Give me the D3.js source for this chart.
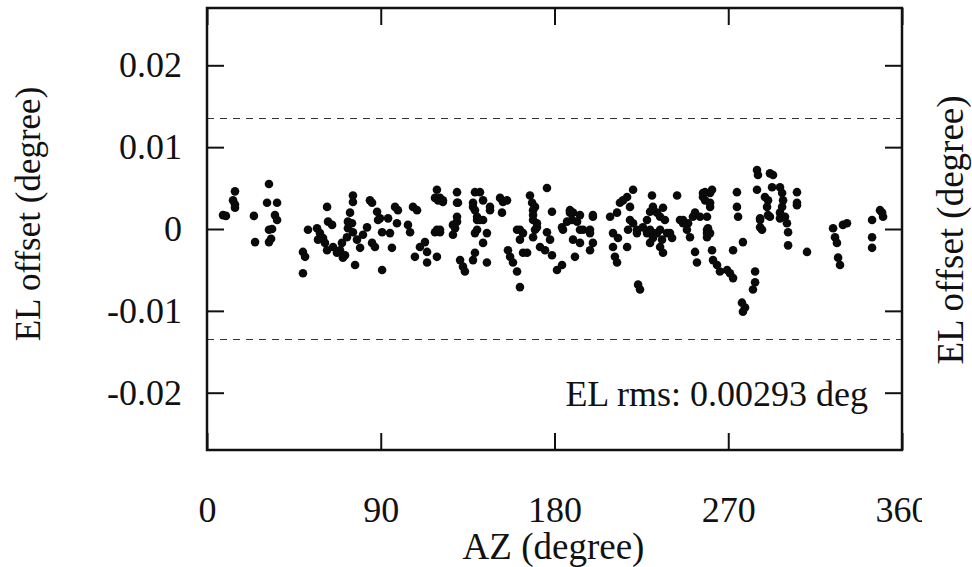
<!DOCTYPE html>
<html>
<head>
<meta charset="utf-8">
<script src="https://cdn.jsdelivr.net/npm/d3@7"></script>
<style>
  body { margin: 0; background: #fff; }
  svg text { font-family: "Liberation Serif", "Times New Roman", serif; fill: #111; }
</style>
</head>
<body>
<div id="chart"></div>
<script>
// pointing offsets: azimuth (deg) and elevation offset (deg)
const azValues = [
  8.3, 9.8, 14.5, 13.5, 14.5, 14.5, 24.3, 24.9, 32.1, 31.1, 36.3, 35.2, 36.3, 33.7, 32.1, 32.1, 33.2,
  49.7, 50.8, 49.7, 52.3, 57.0, 58.5, 60.1, 61.1, 62.2, 57.5, 62.2, 62.7, 64.8,
  65.3, 67.3, 68.9, 70.4, 71.5, 69.9, 72.5, 73.0, 75.1, 75.6, 74.1, 76.7, 75.6, 75.6, 73.0,
  77.7, 79.3, 80.8, 82.9, 85.5, 87.0, 88.1, 89.6, 90.7, 94.8, 95.8, 93.8, 98.4, 97.4, 98.9,
  90.7, 84.4, 85.5, 88.6,
  104.1, 105.2, 106.7, 108.8, 107.7, 110.3, 112.9, 114.0, 114.0, 119.1, 118.1, 120.7, 122.2, 119.7,
  127.4, 128.5, 129.5, 130.0, 131.1, 132.6, 133.6, 137.8, 138.8, 138.8, 139.9, 137.8,
  119.1, 118.1, 120.7, 122.2, 119.1, 120.7, 129.5, 129.5, 129.5, 127.4,
  138.8, 137.8, 138.8, 139.9, 139.9,
  141.4, 143.0, 146.6, 143.0, 151.8, 153.3, 155.4, 152.8,
  167.3, 168.4, 169.9, 168.9, 170.9, 169.9, 176.1, 178.7, 162.1, 163.7,
  188.0, 189.6, 193.2, 191.7, 194.8, 186.5, 184.4, 199.9, 198.4,
  141.4, 146.6, 145.0, 143.0, 145.0,
  155.9, 157.0, 158.5, 160.6, 162.1, 160.6, 162.1, 163.7, 165.8,
  168.9, 168.9, 170.9, 168.9, 172.5, 175.1, 176.1, 177.7, 178.7, 181.3, 183.9,
  183.9, 188.0, 189.1, 189.6, 190.6, 193.2, 193.2, 198.4, 198.4, 199.9, 199.9,
  208.8, 212.4, 213.9, 215.5, 217.6, 220.7, 219.1, 219.1, 222.7,
  210.3, 210.3, 211.3, 212.4, 212.9, 217.6, 218.1, 220.7, 222.7, 223.3, 224.3,
  230.5, 231.0, 229.5, 233.1, 234.7, 236.2, 237.2, 227.9, 229.5, 231.0, 234.7,
  225.8, 227.9, 229.5, 231.0, 233.1, 234.7, 236.2, 235.7, 238.3, 239.8, 240.9, 243.5,
  246.6, 249.2, 251.7, 252.8, 256.9, 258.0, 260.6, 261.6, 260.6, 259.0, 259.0,
  245.0, 246.6, 248.6, 250.2, 252.8, 253.8, 255.4, 259.0, 260.6,
  261.6, 262.1, 264.2, 265.7, 269.4, 270.9, 272.5, 272.5, 277.6,
  274.5, 274.5, 275.1, 277.1, 278.7, 277.6, 283.9, 283.9, 282.8,
  284.9, 285.4, 284.9, 289.0, 291.6, 293.2, 292.7, 290.6, 290.1, 291.6, 286.5, 287.5,
  286.5, 286.5, 290.6, 296.8, 296.8, 299.4, 300.4, 301.0, 301.0, 305.6,
  296.8, 297.9, 298.4, 297.9, 305.6, 305.6,
  258.0, 256.9, 260.6, 259.0, 259.5,
  310.8, 324.3, 325.3, 326.3, 326.9, 327.9, 329.4, 331.5,
  344.5, 344.5, 344.5, 348.6, 349.7, 350.2
];
const elValues = [
  0.0017, 0.0016, 0.0046, 0.0035, 0.0030, 0.0026, 0.0016, -0.0016, 0.0055, 0.0032, 0.0032, 0.0017, 0.0011, 0.0000, -0.0001, -0.0016, -0.0012,
  -0.0028, -0.0034, -0.0054, -0.0001, 0.0001, -0.0005, -0.0011, -0.0017, -0.0026, -0.0013, 0.0027, 0.0009, 0.0005,
  -0.0022, -0.0029, -0.0026, -0.0035, -0.0032, -0.0017, -0.0010, 0.0001, 0.0007, -0.0004, 0.0020, -0.0044, 0.0041, 0.0033, 0.0009,
  -0.0013, -0.0023, -0.0007, 0.0002, -0.0017, -0.0022, 0.0021, 0.0013, -0.0004, -0.0005, -0.0023, 0.0013, 0.0007, 0.0027, 0.0023,
  -0.0050, 0.0035, 0.0032, 0.0011,
  0.0005, -0.0004, 0.0027, 0.0023, -0.0034, -0.0022, -0.0016, -0.0028, -0.0041, -0.0034, -0.0004, -0.0004, 0.0033, 0.0035,
  -0.0007, 0.0001, 0.0009, 0.0032, -0.0038, -0.0046, -0.0052, -0.0038, -0.0029, -0.0005, 0.0011, 0.0027,
  0.0048, 0.0038, 0.0038, 0.0035, -0.0001, -0.0001, 0.0045, 0.0032, 0.0015, 0.0005,
  0.0045, 0.0032, 0.0023, 0.0015, -0.0001,
  0.0045, 0.0035, 0.0023, 0.0011, 0.0038, 0.0033, 0.0035, 0.0020,
  0.0041, 0.0032, 0.0027, 0.0017, 0.0007, -0.0001, 0.0050, 0.0021, -0.0001, -0.0005,
  0.0023, 0.0020, 0.0017, 0.0009, -0.0001, 0.0009, -0.0001, 0.0017, -0.0001,
  0.0011, 0.0027, -0.0005, -0.0017, -0.0041,
  -0.0026, -0.0034, -0.0041, -0.0052, -0.0071, -0.0001, -0.0013, -0.0029, -0.0029,
  0.0023, 0.0011, 0.0002, -0.0010, -0.0022, -0.0026, -0.0004, -0.0013, -0.0032, -0.0050, -0.0044,
  0.0002, 0.0020, 0.0011, -0.0013, -0.0034, -0.0001, -0.0017, -0.0026, -0.0005, -0.0017, 0.0015,
  0.0015, 0.0020, 0.0032, 0.0035, 0.0039, 0.0048, 0.0027, 0.0011, -0.0001,
  -0.0005, -0.0022, -0.0034, -0.0041, -0.0011, -0.0022, -0.0001, 0.0007, -0.0005, -0.0068, -0.0074,
  0.0041, 0.0027, 0.0021, 0.0020, 0.0015, 0.0026, 0.0011, 0.0011, -0.0001, -0.0005, -0.0001,
  0.0002, -0.0005, -0.0017, -0.0011, -0.0005, -0.0022, -0.0029, -0.0013, -0.0005, -0.0005, -0.0011, 0.0041,
  0.0011, 0.0007, 0.0015, 0.0020, 0.0039, 0.0035, 0.0044, 0.0048, 0.0027, -0.0001, -0.0010,
  0.0011, 0.0007, -0.0001, -0.0010, -0.0028, -0.0041, 0.0015, -0.0005, -0.0005,
  -0.0026, -0.0038, -0.0044, -0.0052, -0.0050, -0.0054, -0.0060, -0.0026, -0.0016,
  0.0045, 0.0027, 0.0015, -0.0090, -0.0096, -0.0101, -0.0052, -0.0065, -0.0074,
  0.0072, 0.0066, 0.0048, 0.0039, 0.0068, 0.0066, 0.0051, 0.0035, 0.0027, 0.0015, 0.0011, -0.0001,
  0.0013, 0.0002, 0.0017, 0.0020, 0.0013, 0.0015, 0.0007, -0.0004, -0.0020, 0.0029,
  0.0051, 0.0044, 0.0035, 0.0027, 0.0045, 0.0032,
  0.0045, 0.0044, 0.0032, 0.0015, 0.0001,
  -0.0028, 0.0001, -0.0010, -0.0017, -0.0035, -0.0044, 0.0005, 0.0007,
  0.0011, -0.0010, -0.0023, 0.0023, 0.0020, 0.0015
];
const xTicks = [0, 90, 180, 270, 360];
const yTicks = [-0.02, -0.01, 0, 0.01, 0.02];
const limitLines = [0.0135, -0.0135];
const rmsLabel = "EL rms: 0.00293 deg";

const points = azValues.map((a, i) => ({ az: a, el: elValues[i] }));

const width = 972, height = 567,
  margin = { top: 8, right: 70, bottom: 117, left: 207 },
  tickLen = 17,
  fontSize = 36;

const svg = d3.select("#chart").append("svg")
  .attr("width", width).attr("height", height);

const x = d3.scaleLinear().domain([0, 360]).range([margin.left, width - margin.right]);
const y = d3.scaleLinear().domain([-0.027, 0.027]).range([height - margin.bottom, margin.top]);

// limit lines
svg.selectAll("line.limit")
  .data(limitLines)
  .join("line")
  .attr("class", "limit")
  .attr("x1", x(0)).attr("x2", x(360))
  .attr("y1", d => y(d)).attr("y2", d => y(d))
  .attr("stroke", "#333").attr("stroke-width", 1.2)
  .attr("stroke-dasharray", "7,6");

// points
svg.append("g").selectAll("circle")
  .data(points)
  .join("circle")
  .attr("cx", d => x(d.az))
  .attr("cy", d => y(d.el))
  .attr("r", 4.3)
  .attr("fill", "#0a0a0a");

// axes, ticks pointing inward
function styleAxis(g) {
  g.select(".domain").remove();
  g.selectAll(".tick line").attr("stroke", "#111").attr("stroke-width", 2);
  g.selectAll(".tick text")
    .attr("font-family", null)
    .style("font-size", fontSize + "px")
    .attr("fill", "#111");
}

svg.append("g")
  .attr("transform", `translate(0,${y.range()[0]})`)
  .call(d3.axisBottom(x).tickValues(xTicks).tickSizeInner(-tickLen).tickSizeOuter(0).tickPadding(46))
  .call(styleAxis);

svg.append("g")
  .attr("transform", `translate(0,${y.range()[1]})`)
  .call(d3.axisTop(x).tickValues(xTicks).tickSizeInner(-tickLen).tickSizeOuter(0).tickFormat(""))
  .call(styleAxis);

svg.append("g")
  .attr("transform", `translate(${x(0)},0)`)
  .call(d3.axisLeft(y).tickValues(yTicks).tickSizeInner(-tickLen).tickSizeOuter(0).tickPadding(25)
    .tickFormat(d => d === 0 ? "0" : d3.format(".2f")(d).replace("−", "-")))
  .call(styleAxis);

svg.append("g")
  .attr("transform", `translate(${x(360)},0)`)
  .call(d3.axisRight(y).tickValues(yTicks).tickSizeInner(-tickLen).tickSizeOuter(0).tickFormat(""))
  .call(styleAxis);

// frame
svg.append("rect")
  .attr("x", x(0)).attr("y", y.range()[1])
  .attr("width", x(360) - x(0)).attr("height", y.range()[0] - y.range()[1])
  .attr("fill", "none").attr("stroke", "#111").attr("stroke-width", 2.5);

// rms note
svg.append("text")
  .attr("x", 868).attr("y", 406)
  .attr("text-anchor", "end")
  .style("font-size", "36px")
  .text(rmsLabel);

// axis titles
svg.append("text")
  .attr("x", (x(0) + x(360)) / 2 - 1).attr("y", 559)
  .attr("text-anchor", "middle")
  .style("font-size", "37px")
  .text("AZ (degree)");

svg.append("text")
  .attr("transform", "translate(40,214) rotate(-90)")
  .attr("text-anchor", "middle")
  .style("font-size", "35px")
  .text("EL offset (degree)");

// neighbouring panel edge clips the last tick label
svg.append("rect")
  .attr("x", 922).attr("y", 0)
  .attr("width", width - 922).attr("height", height)
  .attr("fill", "#fff");

svg.append("text")
  .attr("transform", "translate(963,230) rotate(-90)")
  .attr("text-anchor", "middle")
  .style("font-size", "37px")
  .text("EL offset (degree)");
</script>
</body>
</html>
